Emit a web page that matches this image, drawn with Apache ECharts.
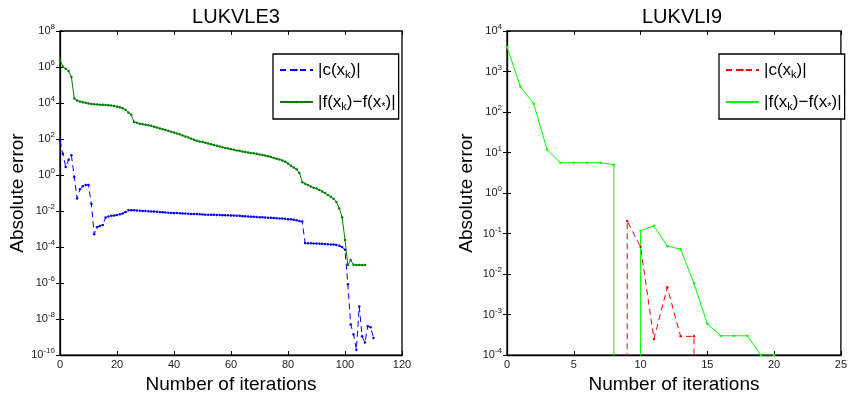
<!DOCTYPE html>
<html><head><meta charset="utf-8">
<script src="https://cdn.jsdelivr.net/npm/echarts@6/dist/echarts.min.js"></script>
<style>html,body{margin:0;padding:0;background:#fff}#c{width:850px;height:399px}</style>
</head><body><div id="c"></div>
<script>
// ---- data (value per iteration, starting at iteration 0) ----
const chartTitles = ['LUKVLE3', 'LUKVLI9'];
const xAxisTitle = 'Number of iterations';
const yAxisTitle = 'Absolute error';

// LUKVLE3: |c(x_k)|
const leftC = [81, 15, 2.8, 7.1, 12.6, 0.79, 0.05, 0.16, 0.24, 0.28,
  0.28, 0.025, 5.2e-4, 1.26e-3, 1.5e-3, 1.7e-3, 4.4e-3, 5.0e-3, 5.4e-3, 5.6e-3,
  6.0e-3, 6.6e-3, 7.4e-3, 8.9e-3, 0.011, 0.0112, 0.011, 0.0107, 0.0105, 0.0102,
  0.0100, 0.0098, 0.0095, 0.0093, 0.0091, 0.0089, 0.0087, 0.0083, 0.0081, 0.0079,
  0.0078, 0.0078, 0.0076, 0.0074, 0.0072, 0.0071, 0.0069, 0.0068, 0.0068, 0.0066,
  0.0065, 0.0063, 0.0063, 0.0062, 0.0062, 0.0060, 0.0060, 0.0059, 0.0059, 0.0058,
  0.0056, 0.0056, 0.0055, 0.0054, 0.0052, 0.0051, 0.0050, 0.0049, 0.0048, 0.0047,
  0.0046, 0.0045, 0.0044, 0.0043, 0.0042, 0.0041, 0.0040, 0.0039, 0.0038, 0.0037,
  0.0035, 0.0035, 0.0033, 0.0031, 0.0028, 0.0026, 1.66e-4, 1.62e-4, 1.62e-4, 1.58e-4,
  1.58e-4, 1.55e-4, 1.51e-4, 1.48e-4, 1.45e-4, 1.41e-4, 1.38e-4, 1.32e-4, 1.2e-4, 1.0e-4,
  7.1e-5, 8.5e-7, 5.0e-9, 1.4e-9, 2.0e-10, 5.0e-8, 1.1e-9, 5.0e-10, 4.0e-9, 3.5e-9,
  8.9e-10];
// LUKVLE3: |f(x_k)-f(x*)|
const leftF = [2.5e6, 1.05e6, 7.9e5, 6.0e5, 2.8e5, 1.8e4, 1.4e4, 1.2e4, 1.1e4, 1.02e4,
  9.5e3, 8.9e3, 8.5e3, 8.3e3, 8.1e3, 7.9e3, 7.8e3, 7.6e3, 7.2e3, 6.8e3,
  6.3e3, 5.9e3, 5.2e3, 4.2e3, 3.0e3, 2.2e3, 890, 790, 710, 660,
  630, 590, 540, 480, 440, 390, 355, 320, 290, 257,
  229, 204, 182, 158, 138, 120, 105, 91, 81, 74,
  68, 62, 56, 51, 47, 43, 39, 35, 32, 30,
  27, 25, 23, 22, 20, 19, 18, 17, 16, 15,
  13.8, 12.9, 12, 11, 10, 8.9, 8.1, 7.2, 6.5, 5.5,
  4.4, 3.3, 2.6, 2.1, 1.3, 0.4, 0.33, 0.28, 0.23, 0.2,
  0.18, 0.15, 0.12, 0.1, 0.079, 0.063, 0.048, 0.032, 0.014, 0.0045,
  2.5e-4, 1.0e-5, 1.9e-5, 1.05e-5, 1.0e-5, 1.0e-5, 1.0e-5, 1.0e-5];

// LUKVLI9 (0 = exactly zero, drawn to the bottom like MATLAB's -Inf)
const rightC = [0, 0, 0, 0, 0, 0, 0, 0, 0, 0.205, 0.047, 0.00025, 0.0047, 0.00029, 0.00029, 0, 0, 0, 0, 0, 0];
const rightF = [4000, 430, 160, 11.8, 5.6, 5.6, 5.6, 5.6, 5.0, 0, 0.117, 0.155, 0.0495, 0.041, 0.0059, 0.00059, 0.0003, 0.0003, 0.0003, 0.0001, 0.0001];

const leftXRange = {min: 0, max: 120, interval: 20};
const rightXRange = {min: 0, max: 25, interval: 5};
const leftYRange = {min: 1e-10, max: 1e8, interval: 2};
const rightYRange = {min: 1e-4, max: 1e4, interval: 1};

// ---- rendering ----
const FONT = 'Liberation Sans, Arial, Helvetica, sans-serif';
const chart = echarts.init(document.getElementById('c'), null, {renderer: 'canvas'});

function toSeries(vals, floor) {
  const out = [];
  for (let i = 0; i < vals.length; i++) {
    const v = vals[i];
    if (v > 0) out.push([i, v]);
    else {
      if (i > 0 && vals[i - 1] > 0) out.push({value: [i - 1, floor], symbol: 'none'});
      if (i + 1 < vals.length && vals[i + 1] > 0) out.push({value: [i + 1, floor], symbol: 'none'});
    }
  }
  return out;
}

const supRich = {
  b: {fontSize: 11, lineHeight: 13, color: '#222', fontFamily: FONT},
  sup: {fontSize: 8, lineHeight: 9, padding: [0, 0, 8, 0], color: '#222', fontFamily: FONT}
};
function logLabel(v) {
  const e = Math.round(Math.log10(v));
  return '{b|10}{sup|' + e + '}';
}

const grids = [
  {left: 60, top: 31, width: 342, height: 327, show: true, borderColor: '#000', borderWidth: 1.3, backgroundColor: '#fff'},
  {left: 507, top: 31, width: 341, height: 327, show: true, borderColor: '#000', borderWidth: 1.3, backgroundColor: '#fff'}
];

function xAxes(gi, range) {
  return [
    {type: 'value', gridIndex: gi, position: 'bottom', min: range.min, max: range.max, interval: range.interval,
     name: xAxisTitle, nameLocation: 'middle', nameGap: 16,
     nameTextStyle: {fontSize: 19, color: '#000', fontFamily: FONT},
     axisLine: {show: true, lineStyle: {color: '#000', width: 1.3}},
     axisTick: {show: true, inside: true, length: 4, lineStyle: {color: '#000'}},
     axisLabel: {show: true, margin: 4, fontSize: 11, color: '#222', fontFamily: FONT},
     splitLine: {show: false}},
    {type: 'value', gridIndex: gi, position: 'top', min: range.min, max: range.max, interval: range.interval,
     axisLine: {show: false},
     axisTick: {show: true, inside: true, length: 4, lineStyle: {color: '#000'}},
     axisLabel: {show: false}, splitLine: {show: false}}
  ];
}
function yAxes(gi, range) {
  return [
    {type: 'log', logBase: 10, gridIndex: gi, position: 'left', min: range.min, max: range.max, interval: range.interval,
     name: yAxisTitle, nameLocation: 'middle', nameGap: 31, nameRotate: 90,
     nameTextStyle: {fontSize: 19, color: '#000', fontFamily: FONT},
     axisLine: {show: true, lineStyle: {color: '#000', width: 1.3}},
     axisTick: {show: true, inside: true, length: 4, lineStyle: {color: '#000'}},
     axisLabel: {show: true, margin: 5, formatter: logLabel, rich: supRich},
     splitLine: {show: false}},
    {type: 'log', logBase: 10, gridIndex: gi, position: 'right', min: range.min, max: range.max, interval: range.interval,
     axisLine: {show: false},
     axisTick: {show: true, inside: true, length: 4, lineStyle: {color: '#000'}},
     axisLabel: {show: false}, splitLine: {show: false}}
  ];
}

function lineSeries(name, xi, yi, data, color, dashed) {
  return {
    name: name, type: 'line', xAxisIndex: xi, yAxisIndex: yi, data: data,
    symbol: 'circle', symbolSize: 2.5, showSymbol: true, showAllSymbol: true,
    clip: true, animation: false,
    lineStyle: {color: color, width: 1, type: dashed ? [6, 4] : 'solid'},
    itemStyle: {color: color}
  };
}

const legendLabels = {
  cL: '{t||c(x}{s|k}{t|)|}',
  fL: '{t||f(x}{s|k}{t|)\u2212f(x}{s|*}{t|)|}',
  cR: '{t||c(x}{s|k}{t|)|}',
  fR: '{t||f(x}{s|k}{t|)\u2212f(x}{s|*}{t|)|}'
};
const legendRich = {
  t: {fontSize: 17, lineHeight: 22, color: '#000', fontFamily: FONT},
  s: {fontSize: 11, lineHeight: 13, padding: [9, 0, 0, 0], color: '#000', fontFamily: FONT}
};
function legend(names, left) {
  return {
    data: names, orient: 'vertical', left: left, top: 54,
    itemWidth: 33, itemHeight: 3, itemGap: 12,
    padding: [6, 3, 7, 6],
    backgroundColor: '#fff', borderColor: '#000', borderWidth: 1.3,
    selectedMode: false,
    formatter: n => legendLabels[n],
    textStyle: {rich: legendRich}
  };
}

chart.setOption({
  animation: false,
  textStyle: {fontFamily: FONT},
  title: [
    {text: chartTitles[0], left: 231, top: 2, textAlign: 'center', textStyle: {fontSize: 20, fontWeight: 'normal', color: '#000', fontFamily: FONT}},
    {text: chartTitles[1], left: 677, top: 2, textAlign: 'center', textStyle: {fontSize: 20, fontWeight: 'normal', color: '#000', fontFamily: FONT}}
  ],
  grid: grids,
  xAxis: [...xAxes(0, leftXRange), ...xAxes(1, rightXRange)],
  yAxis: [...yAxes(0, leftYRange), ...yAxes(1, rightYRange)],
  legend: [legend(['cL', 'fL'], 273), legend(['cR', 'fR'], 719)],
  series: [
    lineSeries('cL', 0, 0, toSeries(leftC, 1e-20), '#0000ff', true),
    lineSeries('fL', 0, 0, toSeries(leftF, 1e-20), '#008000', false),
    lineSeries('cR', 2, 2, toSeries(rightC, 1e-12), '#ff0000', true),
    lineSeries('fR', 2, 2, toSeries(rightF, 1e-12), '#00ff00', false)
  ]
});
</script>
</body></html>
